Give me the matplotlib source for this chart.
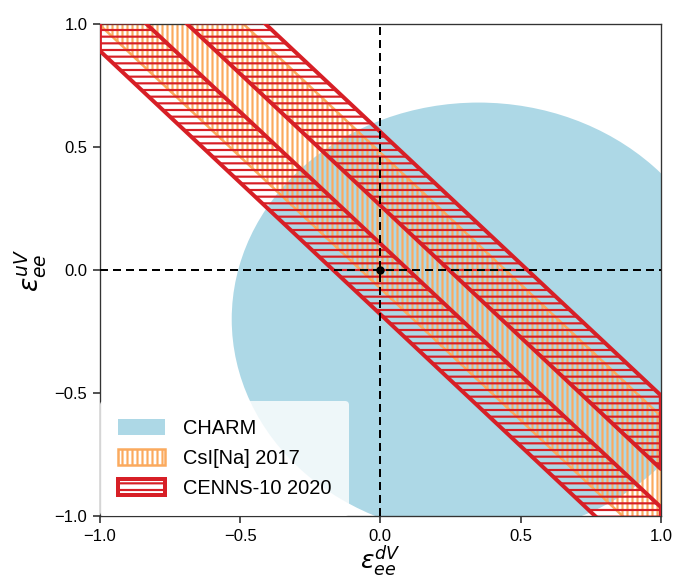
import numpy as np
import matplotlib
matplotlib.use("Agg")
import matplotlib.pyplot as plt
from matplotlib.patches import Ellipse

# CHARM allowed region (circle in the eps_dV / eps_uV plane)
charm_center = (0.35, -0.20)
charm_radius = 0.88

# straight-line bands eps_uV = slope * eps_dV + intercept
slope = -1.07
csi_band = (-0.075, 0.477)                       # CsI[Na] 2017
cenns_bands = [(-0.18, 0.107), (0.262, 0.561)]   # CENNS-10 2020

ticks = [-1.0, -0.5, 0.0, 0.5, 1.0]

red = "#d71f26"
orange = "#fbaa5e"
blue = "#add8e6"

plt.rcParams["font.family"] = ["Liberation Sans", "DejaVu Sans"]
plt.rcParams["hatch.linewidth"] = 1.3

fig = plt.figure(figsize=(675 / 120, 580 / 120), dpi=120)
ax = fig.add_axes([0.148, 0.110, 0.831, 0.849])

ax.add_patch(Ellipse(charm_center, 2 * charm_radius, 2 * charm_radius,
                     facecolor=blue, edgecolor="none", zorder=1, label="CHARM"))

x = np.array([-1.0, 1.0])
lo, hi = csi_band
ax.fill_between(x, slope * x + lo, slope * x + hi, facecolor="none",
                edgecolor=orange, hatch="||||", linewidth=1.5, zorder=2,
                label="CsI[Na] 2017")

for i, (lo, hi) in enumerate(cenns_bands):
    ax.fill_between(x, slope * x + lo, slope * x + hi, facecolor="none",
                    edgecolor=red, hatch="---", linewidth=2.4, zorder=3,
                    label="CENNS-10 2020" if i == 0 else None)

ax.axhline(0, color="black", linestyle=(0, (4, 2.5)), linewidth=1.2, zorder=4)
ax.axvline(0, color="black", linestyle=(0, (4, 2.5)), linewidth=1.2, zorder=4)
ax.plot([0], [0], "o", color="black", markersize=4, zorder=5)

ax.set_xlim(-1, 1)
ax.set_ylim(-1, 1)
ax.set_xticks(ticks)
ax.set_yticks(ticks)
ax.tick_params(labelsize=10, length=4, width=1, color="#333333")
for s in ax.spines.values():
    s.set_color("#333333")

ax.set_xlabel(r"$\varepsilon_{ee}^{dV}$", fontsize=15, labelpad=0)
ax.set_ylabel(r"$\varepsilon_{ee}^{uV}$", fontsize=16, labelpad=4)

leg = ax.legend(loc="lower left", fontsize=12, handlelength=2.35,
                handleheight=0.85, handletextpad=0.9, labelspacing=0.55,
                borderaxespad=0.0, borderpad=0.9, framealpha=0.8,
                edgecolor="none", fancybox=True)

fig.savefig("out.png", dpi=120)
